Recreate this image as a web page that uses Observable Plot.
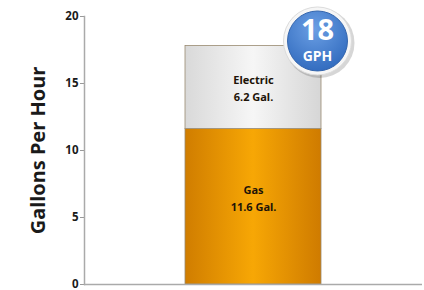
<!DOCTYPE html>
<html>
<head>
<meta charset="utf-8">
<script src="https://cdn.jsdelivr.net/npm/d3@7"></script>
<script src="https://cdn.jsdelivr.net/npm/@observablehq/plot@0.6"></script>
<style>
  html, body { margin: 0; padding: 0; background: #fff; }
  #chart { width: 424px; height: 290px; }
</style>
</head>
<body>
<div id="chart"></div>
<script>
const categories = ["Water Heater"];
const seriesNames = ["Gas", "Electric"];
const seriesValues = [11.6, 6.2];
const seriesLabels = ["Gas\n11.6 Gal.", "Electric\n6.2 Gal."];
const yTicks = [0, 5, 10, 15, 20];
const badgeValue = ["18"];
const badgeUnit = ["GPH"];
const yLabel = "Gallons Per Hour";

let acc = 0;
const data = seriesNames.map((s, i) => {
  const y1 = acc; acc += seriesValues[i];
  return {cat: categories[0], series: s, value: seriesValues[i], label: seriesLabels[i], y1, y2: acc, mid: (y1 + acc) / 2};
});
const total = acc;
const badge = [{cat: categories[0], y: total, num: badgeValue[0], unit: badgeUnit[0]}];

const font = "'Noto Sans', 'DejaVu Sans', sans-serif";

const chart = Plot.plot({
  width: 424,
  height: 290,
  marginLeft: 84,
  marginRight: 2,
  marginTop: 16,
  marginBottom: 6,
  style: {fontFamily: font, background: "#fff"},
  x: {type: "band", domain: categories, padding: 0.426, axis: null},
  y: {domain: [0, 20], axis: null},
  color: {type: "ordinal", domain: seriesNames, range: ["url(#gasGrad)", "url(#elecGrad)"]},
  marks: [
    Plot.axisY({ticks: yTicks, tickSize: 4, tickPadding: 2, fontSize: 11.5, fontWeight: "bold", stroke: "#999", color: "#1a1a1a", label: null}),
    Plot.frame({anchor: "left", stroke: "#aaa", strokeWidth: 1.5}),
    Plot.barY(data, {x: "cat", y1: "y1", y2: "y2", fill: "series", stroke: "#9a8a70", strokeWidth: 0.8}),
    Plot.ruleY([0], {stroke: "#aaa", strokeWidth: 1.5}),
    Plot.text(data.filter(d => d.series === "Electric"), {x: "cat", y: "mid", text: "label", fontSize: 11, fontWeight: "bold", fill: "#1e1408", lineHeight: 1.55}),
    Plot.text(data.filter(d => d.series === "Gas"), {x: "cat", y: "mid", text: "label", dy: -10, fontSize: 11, fontWeight: "bold", fill: "#1e1408", lineHeight: 1.55}),
    Plot.text([yLabel], {frameAnchor: "left", textAnchor: "middle", text: d => d, rotate: -90, dx: -46, fontSize: 20, fontWeight: "bold", fill: "#1a1a1a"}),
    // badge
    Plot.dot(badge, {x: "cat", y: "y", dx: 66, dy: -3, r: 35, fill: "rgba(0,0,0,0.16)", stroke: "none"}),
    Plot.dot(badge, {x: "cat", y: "y", dx: 64, dy: -5, r: 34, fill: "#f6f6f6", stroke: "#dcdcdc", strokeWidth: 1}),
    Plot.dot(badge, {x: "cat", y: "y", dx: 64, dy: -5, r: 30, fill: "url(#badgeGrad)", stroke: "#3566ad", strokeWidth: 1}),
    Plot.text(badge, {x: "cat", y: "y", text: "num", dx: 64, dy: -15, fontSize: 29, fontWeight: "bold", fill: "#fff"}),
    Plot.text(badge, {x: "cat", y: "y", text: "unit", dx: 64, dy: 11, fontSize: 14, fontWeight: "bold", fill: "#fff"})
  ]
});

const svg = d3.select(chart.tagName.toLowerCase() === "svg" ? chart : chart.querySelector("svg"));
const defs = svg.insert("defs", ":first-child");
const gas = defs.append("linearGradient").attr("id", "gasGrad").attr("x1", "0%").attr("x2", "100%").attr("y1", "0%").attr("y2", "0%");
gas.append("stop").attr("offset", "0%").attr("stop-color", "#d07d00");
gas.append("stop").attr("offset", "50%").attr("stop-color", "#f7a705");
gas.append("stop").attr("offset", "100%").attr("stop-color", "#cf7b00");
const elec = defs.append("linearGradient").attr("id", "elecGrad").attr("x1", "0%").attr("x2", "100%").attr("y1", "0%").attr("y2", "0%");
elec.append("stop").attr("offset", "0%").attr("stop-color", "#d9d9d9");
elec.append("stop").attr("offset", "50%").attr("stop-color", "#f6f6f6");
elec.append("stop").attr("offset", "100%").attr("stop-color", "#d6d6d6");
const bg = defs.append("radialGradient").attr("id", "badgeGrad").attr("cx", "45%").attr("cy", "30%").attr("r", "75%");
bg.append("stop").attr("offset", "0%").attr("stop-color", "#6b9fe4");
bg.append("stop").attr("offset", "100%").attr("stop-color", "#2f69bd");

document.getElementById("chart").appendChild(chart);
</script>
</body>
</html>
